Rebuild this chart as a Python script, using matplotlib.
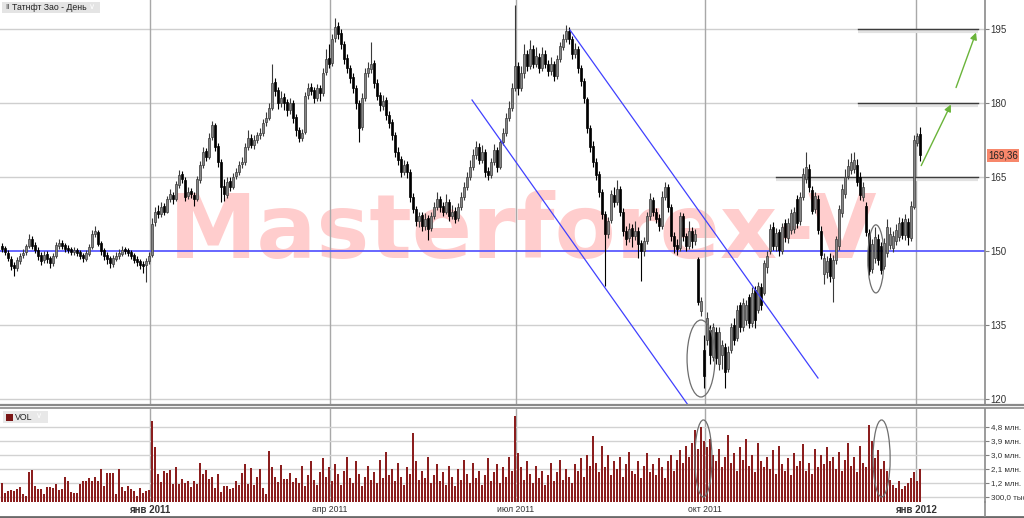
import matplotlib
matplotlib.use("Agg")
import matplotlib.pyplot as plt
from matplotlib.patches import Rectangle, Ellipse
from matplotlib.lines import Line2D

W, H = 1024, 518

# daily candles, Oct 2010 - Jan 2012
opens = [151.0,150.6,149.6,148.4,147.2,146.6,148.0,149.2,149.8,151.0,
         152.4,151.2,150.2,149.2,148.1,149.3,148.5,147.6,149.0,151.0,
         151.7,151.2,150.6,150.4,149.7,150.3,149.7,149.1,148.4,149.4,
         150.9,153.4,153.8,151.6,150.1,149.2,148.5,147.4,148.4,148.9,
         149.4,150.4,150.1,149.7,149.1,148.3,147.9,147.4,147.1,148.0,
         149.2,155.8,158.2,157.4,159.1,158.0,160.6,161.4,160.6,163.4,
         165.6,164.4,161.2,162.1,161.4,160.6,164.4,167.4,170.2,169.0,
         173.2,175.6,171.2,168.0,163.2,161.4,164.2,163.0,165.1,166.0,
         167.6,168.0,171.0,173.0,171.4,172.4,173.6,174.0,176.1,177.0,
         179.0,184.2,182.6,180.0,181.2,180.2,178.6,180.0,177.2,174.6,
         173.0,174.2,181.6,183.2,182.6,181.0,183.0,182.0,186.2,189.2,
         188.2,193.2,195.6,194.2,192.0,189.2,187.0,185.2,183.0,180.0,
         175.2,181.0,186.0,186.8,188.2,184.0,181.6,179.4,180.6,177.6,
         176.2,173.6,170.0,168.6,166.0,167.6,166.0,161.0,158.6,156.0,
         157.2,155.0,156.6,154.6,157.0,159.0,160.6,159.2,158.0,160.0,
         157.0,158.2,156.6,159.0,161.0,163.0,165.0,167.0,169.4,171.0,
         168.4,170.0,166.2,165.4,168.0,170.4,167.0,172.0,174.0,177.0,
         179.0,183.0,187.4,183.0,186.0,190.0,187.4,191.0,188.0,189.4,
         187.0,190.0,188.0,186.4,188.0,185.4,189.0,191.4,193.0,194.6,
         193.0,190.0,191.0,187.0,184.4,180.8,175.0,171.2,168.0,165.6,
         162.0,157.4,153.4,156.2,161.4,160.0,162.6,158.0,154.0,152.6,
         154.6,153.0,154.0,151.6,150.0,152.0,157.0,160.4,158.0,156.6,
         155.0,161.0,163.0,159.0,153.0,151.2,150.6,157.0,153.0,151.0,
         154.0,152.0,148.4,137.8,130.0,132.0,134.0,128.6,133.6,127.0,
         129.0,130.6,126.0,130.0,135.0,132.4,139.0,134.6,136.0,140.6,
         135.4,142.0,138.0,142.6,141.5,146.8,150.0,154.8,151.0,153.8,
         150.0,155.6,152.6,154.2,154.4,160.6,156.0,161.0,164.6,166.6,
         162.4,158.6,160.6,154.0,145.4,145.8,148.6,144.6,148.2,151.0,
         157.6,161.6,165.2,166.4,166.6,167.4,165.0,161.0,159.2,153.6,
         146.4,148.6,152.4,151.0,147.0,149.6,151.2,150.6,152.0,152.8,
         155.8,153.2,155.8,152.6,159.0,171.8,173.8]
highs = [151.6,151.0,150.2,149.0,147.8,148.8,149.6,150.4,151.5,153.4,
         153.0,151.8,150.8,149.8,149.9,149.9,149.0,149.6,151.9,152.4,
         152.2,151.7,151.2,150.9,150.8,150.7,150.2,149.6,150.1,151.4,
         154.2,155.0,154.2,152.0,150.6,149.8,149.0,149.2,149.8,150.4,
         151.0,150.9,150.6,150.2,149.6,148.9,148.4,147.9,148.6,149.7,
         156.6,159.0,159.4,160.0,159.8,161.2,162.6,162.0,164.2,166.4,
         166.2,164.9,163.0,162.8,162.0,165.2,168.3,171.0,170.8,174.0,
         176.4,176.0,171.8,168.6,164.6,165.0,164.9,165.8,166.9,168.2,
         169.0,171.8,174.5,173.8,173.6,174.2,175.0,176.8,178.2,180.0,
         188.0,185.0,183.2,182.4,182.0,180.9,181.0,180.6,177.8,175.2,
         174.8,182.2,184.0,184.0,183.2,183.8,183.6,187.0,191.0,192.0,
         194.0,197.2,196.4,195.0,192.6,190.0,187.8,186.0,183.6,180.6,
         182.0,187.0,188.4,192.4,188.8,184.8,182.2,181.6,181.2,178.4,
         176.8,174.2,171.0,169.2,168.4,168.2,166.6,161.8,159.2,158.0,
         158.0,157.6,157.2,158.0,160.0,162.0,161.2,160.0,161.6,160.6,
         159.4,159.0,159.8,162.0,164.0,166.0,168.4,170.6,172.2,171.8,
         171.4,170.6,167.0,168.8,171.6,171.0,172.8,175.0,178.0,180.4,
         184.0,199.8,188.4,187.4,192.0,190.8,192.8,191.8,191.4,190.2,
         191.4,190.8,188.8,189.4,188.6,189.8,192.4,194.0,195.8,195.4,
         193.6,192.2,191.6,187.8,185.0,181.2,175.6,172.2,168.8,166.2,
         162.6,158.2,156.8,162.4,163.0,164.4,163.2,158.8,155.0,155.6,
         155.4,156.0,154.8,152.2,152.8,158.0,161.8,161.0,158.8,157.4,
         162.2,164.0,163.6,159.6,153.8,152.4,158.0,157.8,153.6,156.0,
         154.8,154.4,148.8,140.6,133.0,137.6,135.0,135.4,134.6,134.6,
         132.0,131.4,130.8,135.4,136.4,139.0,139.6,140.4,140.0,141.2,
         142.6,143.0,143.8,143.6,148.2,150.0,155.4,155.8,154.6,154.4,
         155.6,156.4,156.6,158.6,159.0,161.4,162.0,166.8,170.0,167.6,
         163.2,162.0,161.4,155.0,149.6,149.0,149.6,149.2,153.0,159.4,
         163.6,166.6,168.6,169.8,170.0,168.6,166.0,164.0,160.0,154.4,
         152.4,154.8,153.4,151.8,152.6,156.4,154.8,154.0,155.4,156.8,
         156.6,157.4,156.6,160.2,173.6,174.0,175.2]
lows = [149.8,149.2,147.9,146.2,145.0,146.0,147.4,148.6,149.2,150.6,
        150.4,149.6,148.2,147.2,147.5,147.6,146.6,147.0,148.6,150.5,
        150.4,149.8,149.6,149.1,149.2,148.9,148.3,147.8,148.0,149.0,
        150.5,152.8,151.0,149.2,148.2,147.4,146.6,146.8,147.9,148.4,
        149.0,149.3,148.9,148.3,147.5,147.0,146.4,145.5,143.8,147.4,
        148.8,155.0,156.6,156.8,157.2,157.6,160.0,159.6,160.2,162.8,
        163.8,160.2,160.6,160.8,159.2,160.2,163.8,166.8,168.2,168.6,
        172.6,170.2,167.0,160.0,160.2,160.8,162.2,162.5,164.6,165.5,
        166.8,167.5,170.4,170.8,170.6,171.8,172.8,173.4,175.4,176.5,
        178.5,181.4,178.8,179.2,178.6,177.4,177.8,176.0,173.4,172.0,
        172.2,173.8,180.8,181.6,180.0,180.4,180.4,181.4,185.6,187.0,
        187.6,192.4,193.0,191.0,188.0,186.0,184.0,182.0,178.8,172.0,
        174.6,180.4,185.2,186.0,183.0,180.6,178.4,178.6,176.6,175.0,
        172.6,169.0,167.4,165.0,165.4,164.8,160.0,157.6,155.0,154.8,
        154.0,154.2,152.2,154.0,156.4,158.4,158.0,157.0,157.4,156.0,
        156.4,155.6,156.0,158.4,160.4,162.4,164.4,166.4,168.6,167.6,
        167.8,165.0,164.4,164.8,167.4,166.0,166.6,171.4,173.4,176.4,
        178.4,182.4,181.6,182.4,185.0,186.4,186.8,187.0,187.2,186.0,
        186.4,187.0,185.4,185.6,184.4,184.8,188.4,190.8,192.4,192.0,
        189.0,189.2,186.0,183.4,180.0,174.0,170.0,167.0,164.4,161.0,
        156.4,142.8,152.6,155.6,159.0,159.4,157.0,153.0,151.2,151.8,
        150.8,152.2,148.6,144.0,149.0,151.4,156.2,157.0,155.6,154.0,
        154.4,160.4,158.0,152.0,149.6,149.2,150.0,152.0,150.0,150.4,
        150.6,151.2,139.0,136.8,122.2,131.0,127.0,127.6,127.0,125.8,
        126.0,122.2,125.4,129.4,131.0,131.8,133.6,133.8,135.0,134.4,
        134.6,134.4,137.4,138.0,141.0,145.6,149.4,150.2,150.0,149.0,
        149.4,151.8,151.6,153.4,153.6,154.6,155.2,160.4,163.8,162.0,
        157.4,157.8,153.4,148.4,143.4,144.6,143.8,139.6,147.4,150.2,
        156.8,160.8,164.6,165.6,165.8,163.2,160.4,160.2,153.0,145.2,
        145.6,147.6,147.2,145.4,146.4,148.8,150.4,149.8,151.2,152.0,
        152.4,152.2,151.2,152.0,158.6,171.2,168.2]
closes = [150.5,149.8,148.5,147.0,146.5,148.2,149.0,149.6,151.0,152.5,
          151.0,150.3,149.0,148.0,149.2,148.3,147.5,149.0,151.2,151.6,
          151.0,150.5,150.3,149.8,150.2,149.6,149.0,148.5,149.5,150.8,
          153.5,154.0,151.5,150.0,149.0,148.3,147.5,148.5,149.0,149.5,
          150.3,150.0,149.6,149.0,148.2,147.8,147.2,147.0,148.0,149.0,
          155.5,158.0,157.5,159.0,158.0,160.5,161.5,160.5,163.5,165.5,
          164.5,161.0,162.0,161.5,160.5,164.5,167.5,170.0,169.0,173.0,
          175.5,171.0,168.0,163.0,161.5,164.0,163.0,165.0,166.0,167.5,
          168.0,171.0,173.0,171.5,172.5,173.5,174.0,176.0,177.0,179.0,
          184.0,182.5,180.0,181.0,180.0,178.5,180.0,177.0,174.5,173.0,
          174.0,181.5,183.0,182.5,181.0,183.0,182.0,186.0,189.0,188.0,
          193.0,195.5,194.0,192.0,189.0,187.0,185.0,183.0,180.0,175.0,
          181.0,186.0,187.0,188.0,184.0,181.5,179.5,180.5,177.5,176.0,
          173.5,170.0,168.5,166.0,167.5,166.0,161.0,158.5,156.0,157.0,
          155.0,156.5,154.5,157.0,159.0,160.5,159.0,158.0,160.0,157.0,
          158.0,156.5,159.0,161.0,163.0,165.0,167.0,169.5,171.0,168.5,
          170.0,166.0,165.5,168.0,170.5,167.0,172.0,174.0,177.0,179.0,
          183.0,187.5,183.0,186.0,190.0,187.5,191.0,188.0,189.5,187.0,
          190.0,188.0,186.5,188.0,185.5,189.0,191.5,193.0,194.5,193.0,
          190.0,191.0,187.0,184.5,181.0,175.0,171.0,168.0,165.5,162.0,
          157.5,153.5,156.0,161.5,160.0,162.5,158.0,154.0,152.5,154.5,
          153.0,154.0,151.5,150.0,152.0,157.0,160.5,158.0,156.5,155.0,
          161.0,163.0,159.0,153.0,151.0,150.5,157.0,153.0,151.0,154.0,
          152.0,153.5,139.6,139.8,124.6,136.5,129.0,134.5,128.4,133.5,
          131.0,125.4,129.5,134.5,132.0,138.0,134.5,139.5,139.0,135.5,
          141.5,136.0,143.0,139.0,147.5,149.0,154.5,151.0,153.6,150.2,
          154.8,152.8,155.6,157.6,158.0,155.6,161.0,165.6,167.0,163.0,
          158.2,161.2,154.2,149.2,148.6,148.0,145.0,148.2,152.4,158.6,
          162.6,165.0,167.2,168.0,168.4,164.0,161.4,163.0,153.8,146.0,
          151.4,152.8,148.2,146.2,151.6,154.8,153.4,153.0,154.2,155.6,
          153.2,156.4,152.8,159.2,172.6,173.4,169.36]
# volume, millions of shares
volumes = [1.22,0.55,0.7,0.75,0.7,0.8,0.92,0.5,0.39,1.93,2.04,1.0,0.8,0.8,0.5,0.92,0.92,0.86,1.14,0.75,
           0.8,1.6,1.35,0.6,0.54,0.54,1.12,1.33,1.33,1.52,1.35,1.57,1.33,2.08,1.0,1.87,1.87,1.87,0.5,2.08,
           0.92,0.7,1.0,0.8,0.7,0.37,0.88,0.54,0.7,0.75,
           5.2,3.5,
           1.78,1.28,2.0,1.87,2.04,1.14,2.25,1.12,1.48,1.18,1.33,0.97,1.35,1.12,2.46,1.78,2.04,1.44,1.57,0.9,
           1.78,0.64,1.0,1.0,0.8,0.88,1.33,1.07,1.82,2.4,1.14,2.14,1.07,1.57,2.08,0.86,0.5,3.28,2.2,1.57,
           1.28,2.35,1.44,1.48,1.82,1.28,
           1.5,1.2,2.3,1.0,1.7,2.6,1.4,1.1,1.9,2.8,1.6,2.2,
           1.3,2.4,1.8,1.1,2.0,2.9,1.5,1.2,2.6,1.8,1.0,1.6,2.3,1.4,1.9,1.2,2.7,1.5,3.2,1.7,
           2.1,1.3,2.5,1.6,1.1,2.2,1.8,4.4,2.6,1.4,2.0,1.5,2.9,1.2,1.7,2.4,1.3,1.9,1.1,2.3,
           1.6,1.0,2.1,1.4,2.7,1.8,1.2,2.5,1.5,2.0,1.1,1.7,2.8,1.3,1.9,2.4,1.2,2.2,1.6,2.9,2.0,5.5,
           3.1,2.2,1.4,2.6,1.8,1.2,2.3,1.5,2.0,1.1,1.7,2.5,1.3,1.9,2.7,1.4,2.1,1.6,1.2,2.4,
           2.0,2.8,1.6,3.0,2.3,4.2,2.5,1.9,3.6,2.2,3.0,1.7,2.6,2.1,2.9,1.6,2.4,3.2,2.0,1.8,
           2.6,1.5,2.3,3.1,1.9,2.4,1.7,2.8,2.2,1.5,2.6,3.0,2.0,2.7,3.3,2.5,3.6,2.9,3.8,4.6,3.4,4.8,3.9,
           3.5,4.0,3.0,2.6,3.4,2.2,2.9,4.3,2.5,3.1,2.0,3.5,2.7,4.0,2.3,3.0,1.9,3.8,2.6,2.2,
           2.9,2.1,3.3,1.8,3.6,2.4,2.0,2.8,1.7,3.1,2.3,2.6,3.7,2.0,2.5,1.8,3.4,2.2,3.0,2.4,
           3.5,2.6,2.9,2.1,3.2,2.0,2.7,3.8,2.3,2.9,1.9,3.6,2.5,2.2,4.9,3.9,2.8,3.3,2.1,2.6,
           2.0,1.4,1.1,0.9,1.3,0.8,1.0,1.2,1.5,1.9,1.3,2.1]

month_index = [49.3, 109.3, 171.3, 234.3, 304.7]
month_labels = ["янв 2011", "апр 2011", "июл 2011", "окт 2011", "янв 2012"]
price_ticks = [120, 135, 150, 165, 180, 195]
vol_ticks = [0.3, 1.2, 2.1, 3.0, 3.9, 4.8]
vol_labels = ["300,0 тыс.", "1,2 млн.", "2,1 млн.", "3,0 млн.", "3,9 млн.", "4,8 млн."]
last_price = "169,36"

plt.rcParams['font.family'] = ['Liberation Sans', 'DejaVu Sans']


def fx(px):
    return px / W


def fy(py):
    return 1 - py / H


fig = plt.figure(figsize=(W / 100, H / 100), dpi=100)
fig.patch.set_facecolor("white")

xmin, xmax = -0.67, 327.67
ax = fig.add_axes([0, fy(404), fx(985), 404 / H])
axv = fig.add_axes([0, fy(502), fx(985), 93 / H])

# ---- price panel ----
n = len(closes)
for i in range(n):
    o, h, l, c = opens[i], highs[i], lows[i], closes[i]
    up = c >= o
    edge = "#3a3a3a" if up else "#000000"
    ax.vlines(i, l, h, color=edge, lw=0.8, zorder=3)
    ax.add_patch(Rectangle((i - 0.34, min(o, c)), 0.68, max(abs(c - o), 0.2),
                           facecolor="#858585" if up else "#000000", edgecolor=edge,
                           lw=0.5, zorder=4))

for p in price_ticks:
    if p == 150:
        ax.axhline(p, color="#5a5aff", lw=1.3, zorder=2)
    else:
        ax.axhline(p, color="#cfcfcf", lw=1.0, zorder=1)
for m in month_index:
    ax.axvline(m, color="#a8a8a8", lw=1.0, zorder=1)
    axv.axvline(m, color="#a8a8a8", lw=1.0, zorder=1)

# drawn resistance levels with shadow
for lvl, x0 in [(195, 285.3), (180, 285.3), (165, 258.0)]:
    ax.plot([x0, 325.3], [lvl - 0.45, lvl - 0.45], color="#e2e2e2", lw=3, zorder=2,
            solid_capstyle="butt")
    ax.plot([x0, 325.3], [lvl, lvl], color="#3c3c3c", lw=1.0, zorder=2)

# channel lines
ax.plot([156.67, 228.67], [180.61, 118.78], color="#4040ff", lw=0.9, zorder=5)
ax.plot([189.33, 272.0], [194.80, 124.25], color="#4040ff", lw=0.9, zorder=5)

# ellipses
ax.add_patch(Ellipse((233.0, 128.2), 9.3, 15.6, fill=False, ec="#6e6e6e", lw=0.9, zorder=6))
ax.add_patch(Ellipse((291.3, 148.4), 5.4, 13.8, fill=False, ec="#6e6e6e", lw=0.9, zorder=6))
axv.add_patch(Ellipse((233.8, 2.78), 5.7, 4.95, fill=False, ec="#6e6e6e", lw=0.9, zorder=6))
axv.add_patch(Ellipse((293.2, 2.78), 5.7, 4.95, fill=False, ec="#6e6e6e", lw=0.9, zorder=6))

# arrows
for (x0, y0, x1, y1) in [(306.0, 166.8, 316.7, 180.2), (317.7, 182.6, 325.0, 194.8)]:
    ax.annotate("", xy=(x1, y1), xytext=(x0, y0),
                arrowprops=dict(arrowstyle="-|>", color="#6ab43a", lw=1.0,
                                mutation_scale=10), zorder=7)

# watermark
ax.text(173.7, 148.6, "Masterforex-V", fontsize=64, fontweight="bold",
        family="DejaVu Sans", color="#ffcdcd", ha="center", va="baseline", zorder=0.5)

ax.set_xlim(xmin, xmax)
ax.set_ylim(118.98, 200.88)
ax.yaxis.tick_right()
ax.set_yticks(price_ticks)
ax.set_yticklabels([str(p) for p in price_ticks])
ax.tick_params(axis="y", direction="out", length=3, width=0.8, colors="#808080",
               labelcolor="#333333", labelsize=7, pad=1)
ax.set_xticks([])
for s in ["top", "left", "bottom"]:
    ax.spines[s].set_visible(False)
ax.spines["right"].set_color("#8a8a8a")
ax.spines["right"].set_linewidth(1.2)

# ---- volume panel ----
axv.bar(range(len(volumes)), volumes, width=0.6, color="#8b1e1e", zorder=3)
for v in vol_ticks:
    axv.axhline(v, color="#d2d2d2", lw=1.0, zorder=1)
axv.set_xlim(xmin, xmax)
axv.set_ylim(-0.02, 5.96)
axv.yaxis.tick_right()
axv.set_yticks(vol_ticks)
axv.set_yticklabels(vol_labels)
axv.tick_params(axis="y", direction="out", length=3, width=0.8, colors="#808080",
                labelcolor="#333333", labelsize=5.8, pad=1)
axv.set_xticks(month_index)
axv.set_xticklabels(month_labels)
axv.tick_params(axis="x", length=0, labelsize=6.2, labelcolor="#333333", pad=2.5)
for lab in axv.get_xticklabels():
    if lab.get_text().startswith("янв"):
        lab.set_fontweight("bold")
        lab.set_fontsize(7)
for s in ["top", "left", "bottom"]:
    axv.spines[s].set_visible(False)
axv.spines["right"].set_color("#8a8a8a")
axv.spines["right"].set_linewidth(1.2)

# ---- chrome ----
fig.add_artist(Line2D([0, 1], [fy(405), fy(405)], color="#8a8a8a", lw=1.6))
fig.add_artist(Line2D([0, 1], [fy(408), fy(408)], color="#8a8a8a", lw=1.2))
fig.add_artist(Line2D([0, 1], [fy(516.5), fy(516.5)], color="#6a6a6a", lw=2.0))
fig.add_artist(Line2D([fx(985), fx(985)], [fy(502), fy(516)], color="#8a8a8a", lw=1.2))

# header label
fig.add_artist(Rectangle((fx(2), fy(13)), fx(98), 11 / H, facecolor="#e4e4e4",
                         edgecolor="none", transform=fig.transFigure))
fig.text(fx(5), fy(7.5), "ǁ", fontsize=6, color="#333333", va="center")
fig.text(fx(12), fy(7.5), "Татнфт Зао - День", fontsize=6.3, color="#222222", va="center")
fig.text(fx(89), fy(7.5), "∨", fontsize=6, color="#ffffff", va="center")

# VOL legend
fig.add_artist(Rectangle((fx(3), fy(423)), fx(45), 12 / H, facecolor="#e8e8e8",
                         edgecolor="none", transform=fig.transFigure))
fig.add_artist(Rectangle((fx(6), fy(421)), fx(7), 7 / H, facecolor="#7a1515",
                         edgecolor="none", transform=fig.transFigure))
fig.text(fx(15), fy(417), "VOL", fontsize=6.3, color="#222222", va="center")
fig.text(fx(36), fy(417), "∨", fontsize=6, color="#ffffff", va="center")

# last price marker
fig.text(fx(988), fy(155.5), last_price, fontsize=7, color="#222222", va="center",
         bbox=dict(boxstyle="square,pad=0.15", facecolor="#f7876b", edgecolor="none"))

fig.savefig("out.png", dpi=100, facecolor="white")
